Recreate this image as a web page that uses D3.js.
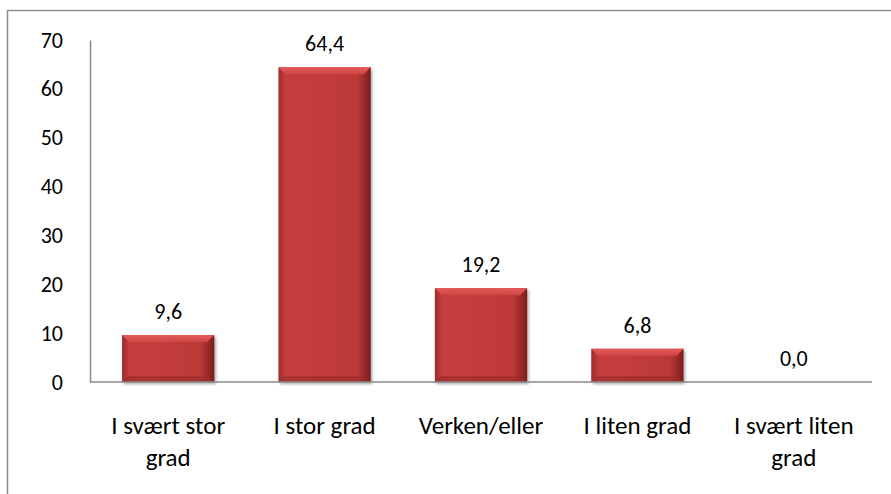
<!DOCTYPE html>
<html lang="no">
<head>
<meta charset="utf-8">
<title>Fordeling av svar</title>
<script src="https://cdn.jsdelivr.net/npm/d3@7"></script>
<style>
  body { margin: 0; background: #fff; }
  text { font-family: Carlito, Lato, "Open Sans", sans-serif; fill: #000; }
</style>
</head>
<body>
<script>
// data
var categories = [["I svært stor", "grad"], ["I stor grad"], ["Verken/eller"], ["I liten grad"], ["I svært liten", "grad"]];
var values = [9.6, 64.4, 19.2, 6.8, 0.0];
var yTicks = [0, 10, 20, 30, 40, 50, 60, 70];

var W = 891, H = 494;
var margin = {top: 40, left: 90, right: 19, bottom: 112};
var plotH = H - margin.top - margin.bottom;  // 342

var svg = d3.select("body").append("svg")
    .attr("width", W)
    .attr("height", H);

// gradients for the bevelled bars
var defs = svg.append("defs");
var g1 = defs.append("linearGradient").attr("id", "barFill")
    .attr("x1", 0).attr("x2", 1).attr("y1", 0).attr("y2", 0);
g1.append("stop").attr("offset", "0%").attr("stop-color", "#9e2a2a");
g1.append("stop").attr("offset", "8%").attr("stop-color", "#c63e3d");
g1.append("stop").attr("offset", "85%").attr("stop-color", "#bd3938");
g1.append("stop").attr("offset", "100%").attr("stop-color", "#7a1d1d");

var g2 = defs.append("linearGradient").attr("id", "barTop")
    .attr("x1", 0).attr("x2", 0).attr("y1", 0).attr("y2", 1);
g2.append("stop").attr("offset", "0%").attr("stop-color", "#e35a58");
g2.append("stop").attr("offset", "100%").attr("stop-color", "#cf4645");

var shadow = defs.append("filter").attr("id", "shadow")
    .attr("x", "-10%").attr("y", "-10%").attr("width", "130%").attr("height", "130%");
shadow.append("feDropShadow").attr("dx", 1.5).attr("dy", 2).attr("stdDeviation", 1.5)
    .attr("flood-color", "#000").attr("flood-opacity", 0.35);

// outer frame (only top and left edges are visible)
svg.append("path")
    .attr("d", "M7.5," + H + "V10.5H" + W)
    .attr("fill", "none")
    .attr("stroke", "#8e8e8e")
    .attr("stroke-width", 1.5);

var xScale = d3.scaleBand()
    .domain(d3.range(values.length))
    .range([margin.left, 872])
    .paddingInner(0.41)
    .paddingOuter(0.205);

var yScale = d3.scaleLinear()
    .domain([0, 70])
    .range([margin.top + plotH, margin.top]);

// y axis
var yAxis = d3.axisLeft(yScale)
    .tickValues(yTicks)
    .tickSize(0)
    .tickPadding(27);

var gy = svg.append("g")
    .attr("transform", "translate(" + margin.left + ",0)")
    .call(yAxis);
gy.select(".domain").attr("stroke", "#8a8a8a").attr("stroke-width", 1.5);
gy.selectAll("text").style("font-size", "22px").attr("font-family", null);

// bars
var bars = svg.selectAll(".bar")
    .data(values)
    .enter()
    .append("g")
    .attr("class", "bar")
    .filter(function(d) { return d > 0; });

bars.append("rect")
    .attr("x", function(d, i) { return xScale(values.indexOf(d)); })
    .attr("y", function(d) { return yScale(d); })
    .attr("width", xScale.bandwidth())
    .attr("height", function(d) { return yScale(0) - yScale(d); })
    .attr("fill", "url(#barFill)")
    .attr("filter", "url(#shadow)");

// top bevel
bars.append("path")
    .attr("d", function(d) {
        var x0 = xScale(values.indexOf(d)), x1 = x0 + xScale.bandwidth();
        var y0 = yScale(d), b = Math.min(7, (yScale(0) - y0) / 2);
        return "M" + x0 + "," + y0 + "H" + x1 + "L" + (x1 - b) + "," + (y0 + b) +
               "H" + (x0 + b) + "Z";
    })
    .attr("fill", "url(#barTop)");

// bottom bevel
bars.append("path")
    .attr("d", function(d) {
        var x0 = xScale(values.indexOf(d)), x1 = x0 + xScale.bandwidth();
        var yb = yScale(0), b = Math.min(6, (yb - yScale(d)) / 2);
        return "M" + x0 + "," + yb + "H" + x1 + "L" + (x1 - b) + "," + (yb - b) +
               "H" + (x0 + b) + "Z";
    })
    .attr("fill", "#9a2b2a")
    .attr("opacity", 0.6);

// x axis line
svg.append("line")
    .attr("x1", margin.left).attr("x2", 872)
    .attr("y1", yScale(0)).attr("y2", yScale(0))
    .attr("stroke", "#8a8a8a")
    .attr("stroke-width", 1.5);

// value labels
svg.selectAll(".val")
    .data(values)
    .enter()
    .append("text")
    .attr("class", "val")
    .attr("x", function(d, i) { return xScale(i) + xScale.bandwidth() / 2; })
    .attr("y", function(d) { return yScale(d) - 16; })
    .attr("text-anchor", "middle")
    .style("font-size", "22px")
    .text(function(d) { return d.toFixed(1).replace(".", ","); });

// category labels
var cat = svg.selectAll(".cat")
    .data(categories)
    .enter()
    .append("text")
    .attr("class", "cat")
    .attr("text-anchor", "middle")
    .style("font-size", "25px")
    .attr("transform", function(d, i) {
        return "translate(" + (xScale(i) + xScale.bandwidth() / 2) + ",434)";
    });

cat.selectAll("tspan")
    .data(function(d) { return d; })
    .enter()
    .append("tspan")
    .attr("x", 0)
    .attr("y", function(d, j) { return j * 32; })
    .text(function(d) { return d; });
</script>
</body>
</html>
